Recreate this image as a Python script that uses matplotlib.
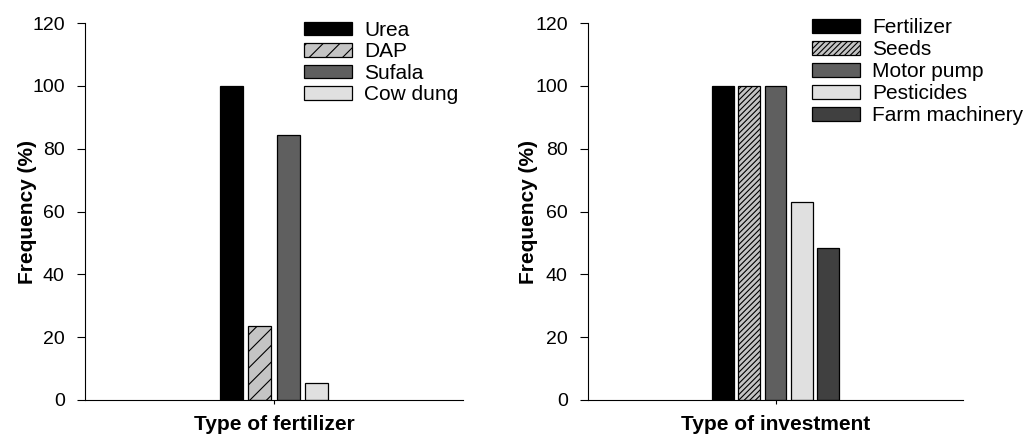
import matplotlib
matplotlib.use("Agg")
import matplotlib.pyplot as plt
from matplotlib.patches import Patch

plt.rcParams['font.family'] = ['Liberation Sans', 'DejaVu Sans']
plt.rcParams['hatch.linewidth'] = 0.8

fert_labels = ["Urea", "DAP", "Sufala", "Cow dung"]
fert_values = [100, 23.7, 84.2, 5.3]
fert_colors = ["#000000", "#c4c4c4", "#5f5f5f", "#e0e0e0"]
fert_hatches = ["", "//", "", ""]

inv_labels = ["Fertilizer", "Seeds", "Motor pump", "Pesticides", "Farm machinery"]
inv_values = [100, 100, 100, 63, 48.5]
inv_colors = ["#000000", "#c4c4c4", "#5f5f5f", "#e0e0e0", "#404040"]
inv_hatches = ["", "//////", "", "", ""]

yticks = [0, 20, 40, 60, 80, 100, 120]

fig = plt.figure(figsize=(10.29, 4.37), dpi=100)
ax1 = fig.add_axes([85/1029, 1-400/437, (463-85)/1029, 377/437])
ax2 = fig.add_axes([588/1029, 1-400/437, (963-588)/1029, 377/437])

def draw(ax, labels, values, colors, hatches, pitch, width, xlabel, legx, legy, spacing, ylx):
    n = len(values)
    xs = [(i - (n-1)/2) * pitch for i in range(n)]
    for x, v, c, h in zip(xs, values, colors, hatches):
        ax.bar(x, v, width=width, color=c, edgecolor="black", linewidth=0.9, hatch=h, zorder=2)
    ax.set_xlim(-1, 1)
    ax.set_ylim(0, 120)
    ax.set_yticks(yticks)
    ax.set_xticks([0])
    ax.set_xticklabels([""])
    ax.tick_params(axis='y', direction='out', length=5.5, width=0.8, labelsize=14, pad=9)
    ax.tick_params(axis='x', direction='out', length=3, width=0.8)
    for s in ["top", "right"]:
        ax.spines[s].set_visible(False)
    ax.spines["left"].set_linewidth(0.8)
    ax.spines["bottom"].set_linewidth(0.8)
    ax.set_ylabel("Frequency (%)", fontsize=15, fontweight="bold", va="center")
    ax.yaxis.set_label_coords(ylx, 0.5)
    ax.set_xlabel(xlabel, fontsize=15, fontweight="bold", va="top")
    ax.xaxis.set_label_coords(0.5, -0.04)
    handles = [Patch(facecolor=c, edgecolor="black", linewidth=0.9, hatch=h) for c, h in zip(colors, hatches)]
    ax.legend(handles, labels, loc="upper left", bbox_to_anchor=(legx, legy), frameon=False,
              fontsize=15, handlelength=2.3, handleheight=0.62, handletextpad=0.58,
              labelspacing=spacing, borderpad=0, borderaxespad=0)

draw(ax1, fert_labels, fert_values, fert_colors, fert_hatches, 0.15, 0.122, "Type of fertilizer",
     (304-85)/378, 1.006, 0.12, -0.151)
draw(ax2, inv_labels, inv_values, inv_colors, inv_hatches, 0.139, 0.117, "Type of investment",
     (812-588)/375, 1.013, 0.145, -0.16)

fig.savefig("out.png", dpi=100)
